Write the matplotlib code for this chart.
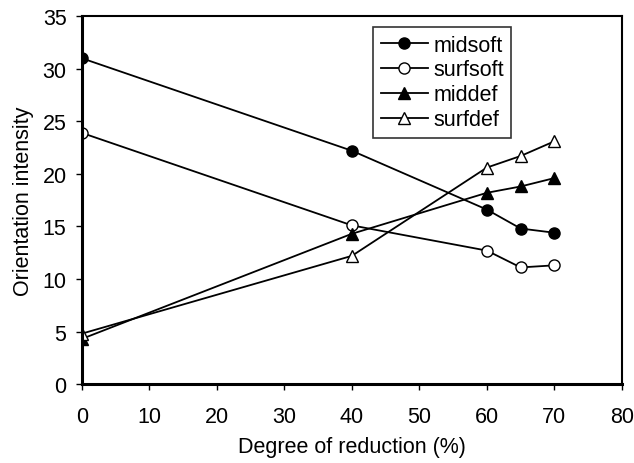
import matplotlib
matplotlib.use("Agg")
import matplotlib.pyplot as plt

plt.rcParams['font.family'] = ['Liberation Sans', 'DejaVu Sans']

reduction = [0, 40, 60, 65, 70]
midsoft = [31.0, 22.2, 16.6, 14.8, 14.4]
surfsoft = [23.9, 15.1, 12.7, 11.1, 11.3]
middef = [4.3, 14.3, 18.2, 18.8, 19.6]
surfdef = [4.8, 12.2, 20.6, 21.7, 23.1]

fig = plt.figure(figsize=(6.34, 4.64), dpi=100)
ax = fig.add_axes([0.129, 0.170, 0.852, 0.793])

ms = 8
ax.plot(reduction, midsoft, '-o', color='black', mfc='black', mec='black', ms=ms, lw=1.3, label='midsoft')
ax.plot(reduction, surfsoft, '-o', color='black', mfc='white', mec='black', ms=ms, lw=1.3, label='surfsoft')
ax.plot(reduction, middef, '-^', color='black', mfc='black', mec='black', ms=ms, lw=1.3, label='middef')
ax.plot(reduction, surfdef, '-^', color='black', mfc='white', mec='black', ms=ms, lw=1.3, label='surfdef')

ax.set_xlim(0, 80)
ax.set_ylim(0, 35)
ax.set_xticks(range(0, 81, 10))
ax.set_yticks(range(0, 36, 5))
ax.tick_params(labelsize=15.5, direction='out', length=4, width=1)
ax.tick_params(axis='x', pad=12)
ax.tick_params(axis='y', pad=7)
ax.set_xlabel('Degree of reduction (%)', fontsize=15.5, labelpad=6)
ax.set_ylabel('Orientation intensity', fontsize=15.5, labelpad=6)

ax.spines['left'].set_linewidth(2.2)
ax.spines['bottom'].set_linewidth(2.2)
ax.spines['top'].set_linewidth(1.5)
ax.spines['right'].set_linewidth(1.5)

leg = ax.legend(loc='upper left', bbox_to_anchor=(373/634, 1-28/464),
                bbox_transform=fig.transFigure, borderaxespad=0, fontsize=15.5,
                frameon=True, fancybox=False, edgecolor='black',
                handlelength=2.2, handletextpad=0.25, labelspacing=0.18,
                borderpad=0.35)
leg.get_frame().set_linewidth(1.2)

fig.savefig('out.png', dpi=100)
